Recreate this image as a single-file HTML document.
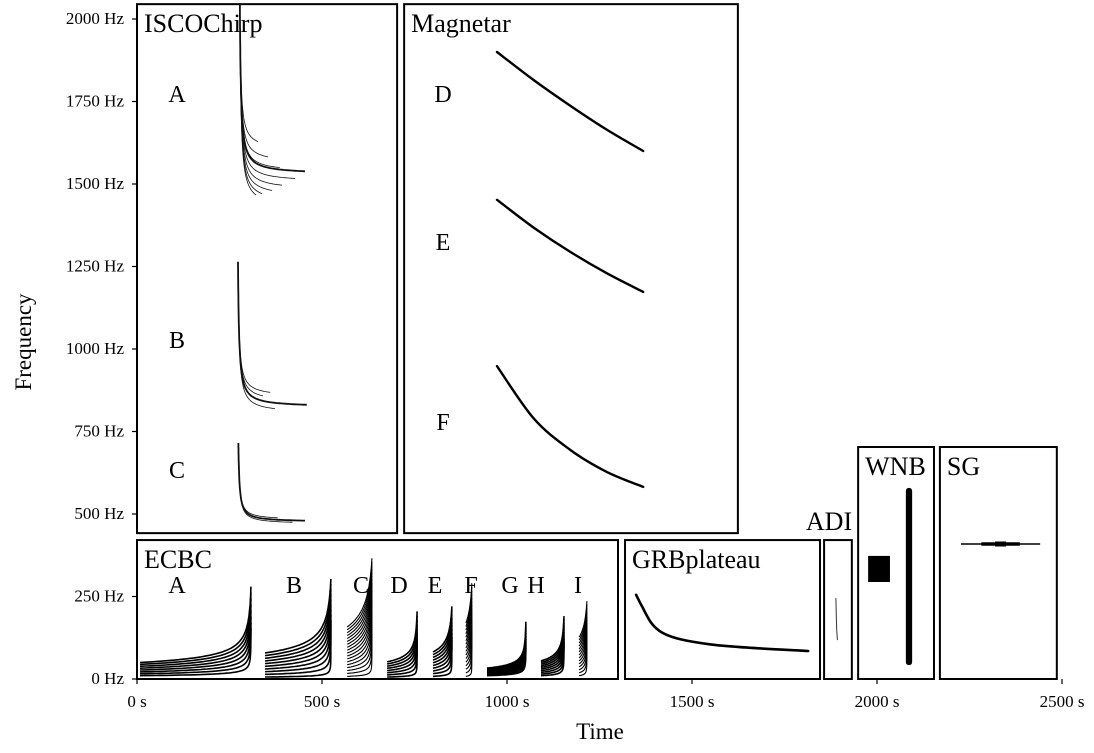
<!DOCTYPE html>
<html><head><meta charset="utf-8"><style>
body{margin:0;background:#fff}
svg text{font-family:"Liberation Serif",serif;fill:#000}
</style></head><body>
<svg id="c" width="1094" height="748" viewBox="0 0 1094 748" xmlns="http://www.w3.org/2000/svg"></svg>
<script>
// ---- data (time in s, frequency in Hz) ----
const yTicks=[0,250,500,750,1000,1250,1500,1750,2000];
const xTicks=[0,500,1000,1500,2000,2500];
const boxNames=["ISCOChirp","Magnetar","ECBC","GRBplateau","ADI","WNB","SG"];
const boxT0=[0,722,0,1319,1857,1949,2170];
const boxT1=[703,1624,1300,1846,1932,2154,2486];
const boxF0=[442,442,0,0,0,0,0];
const boxF1=[2045,2045,421,421,421,703,703];
// ISCO chirps: start time, start freq, end time, end freq
const iscoT0=[278,278,278,278,278,278,278,278,278, 273,273,273,273, 274,274,274];
const iscoF0=[2045,2045,2045,2045,2045,2045,2045,2045,2045, 1264,1264,1264,1264, 715,715,715];
const iscoT1=[327,354,386,454,427,392,365,338,322, 360,459,373,340, 454,420,380];
const iscoF1=[1603,1564,1536,1530,1506,1482,1461,1442,1427, 855,824,806,840, 476,470,482];
// Magnetar
const magT=[973,1072,1170,1269,1368];
const magD=[1900,1815,1738,1665,1600];
const magE=[1452,1368,1295,1230,1173];
const magF=[948,790,695,628,582];
// ECBC groups
const ecbcLabels=["A","B","C","D","E","F","G","H","I"];
const ecbcT0=[8,346,568,676,800,889,946,1092,1195];
const ecbcT1=[308,524,635,757,851,905,1051,1154,1216];
const ecbcBaseLo=[10,6,8,6,8,8,10,10,10];
const ecbcBaseHi=[50,79,158,52,82,170,33,55,127];
const ecbcPeak=[279,300,351,203,214,261,173,188,218];
const ecbcCount=[8,10,18,8,10,16,10,10,14];
// GRB plateau
const grbT=[1349,1365,1390,1420,1470,1550,1650,1814];
const grbF=[255,220,170,140,120,105,95,85];
// ADI
const adiT=[1889,1890,1891,1893];
const adiF=[245,190,150,118];
// WNB
const wnbBoxT=[1976,2035]; const wnbBoxF=[294,373];
const wnbBarT=[2078,2095]; const wnbBarF=[42,579];
// SG
const sgT=[2227,2441]; const sgF=409;

const X=t=>137+t*0.37, Y=f=>679-f*0.33;
const svg=document.getElementById('c');
const NS='http://www.w3.org/2000/svg';
function mk(tag,attrs,parent){const e=document.createElementNS(NS,tag);for(const k in attrs)e.setAttribute(k,attrs[k]);(parent||svg).appendChild(e);return e;}
function txt(s,x,y,size,anchor,name){const e=mk('text',{x:x,y:y,'font-size':size,'text-anchor':anchor||'start'});e.textContent=s;


return e;}
function pl(pts,w,col,name){const e=mk('polyline',{points:pts.map(p=>p[0].toFixed(1)+','+p[1].toFixed(1)).join(' '),fill:'none',stroke:col||'#000','stroke-width':w,'stroke-linejoin':'round'});


return e;}
function smooth(pts,w,name){let d='M'+pts[0][0]+','+pts[0][1];
for(let i=0;i<pts.length-1;i++){const p0=pts[Math.max(0,i-1)],p1=pts[i],p2=pts[i+1],p3=pts[Math.min(pts.length-1,i+2)];
d+=' C'+(p1[0]+(p2[0]-p0[0])/6).toFixed(1)+','+(p1[1]+(p2[1]-p0[1])/6).toFixed(1)+' '+(p2[0]-(p3[0]-p1[0])/6).toFixed(1)+','+(p2[1]-(p3[1]-p1[1])/6).toFixed(1)+' '+p2[0].toFixed(1)+','+p2[1].toFixed(1);}
const e=mk('path',{d:d,fill:'none',stroke:'#000','stroke-width':w,'stroke-linecap':'round'});


return e;}

// axes ticks
yTicks.forEach(v=>{const l=mk('line',{x1:132,x2:137,y1:Y(v),y2:Y(v),stroke:'#000','stroke-width':1.2});


txt(v+' Hz',124,Y(v)+5,17,'end','y-tick-label');});
xTicks.forEach(v=>{const l=mk('line',{x1:X(v),x2:X(v),y1:679,y2:684,stroke:'#000','stroke-width':1.2});


txt(v+' s',X(v),707,17,'middle','x-tick-label');});
txt('Time',600,739,23,'middle','x-axis-title');
const yt=txt('Frequency',0,0,23,'middle','y-axis-title');yt.setAttribute('transform','translate(31,342) rotate(-90)');

// boxes
boxNames.forEach((n,i)=>{const r=mk('rect',{x:X(boxT0[i]),y:Y(boxF1[i]),width:X(boxT1[i])-X(boxT0[i]),height:Y(boxF0[i])-Y(boxF1[i]),fill:'none',stroke:'#000','stroke-width':2});


if(n==='ADI') txt(n,829,530,26,'middle','adi-label');
else txt(n,X(boxT0[i])+7,Y(boxF1[i])+28,26,'start',n.toLowerCase()+'-label');});

// ISCO chirps (decaying)
for(let i=0;i<iscoT0.length;i++){const pts=[],t0=iscoT0[i],t1=iscoT1[i],a=iscoF0[i],b=iscoF1[i],eps=3;
for(let k=0;k<=100;k++){const t=t0+(t1-t0)*Math.pow(k/100,2.5);const f=b+(a-b)*eps/(eps+(t-t0));pts.push([X(t),Y(f)]);}
pl(pts,i===3||i===10||i===13?1.8:0.8,'#111','isco-chirp');}
txt('A',177,102,24,'middle','isco-a-label');txt('B',177,348,24,'middle','isco-b-label');txt('C',177,478,24,'middle','isco-c-label');

// Magnetar
[[magD,'D',102],[magE,'E',250],[magF,'F',430]].forEach(([arr,l,ly])=>{smooth(magT.map((t,i)=>[X(t),Y(arr[i])]),2.4,'magnetar-'+l.toLowerCase()+'-curve');txt(l,443,ly,24,'middle','magnetar-'+l.toLowerCase()+'-label');});

// ECBC chirps (rising)
const ecbcLX=[177,294,361,399,435,471,510,536,578];
ecbcLabels.forEach((l,g)=>{txt(l,ecbcLX[g],593,24,'middle','ecbc-'+l.toLowerCase()+'-label');
const n=ecbcCount[g],t0=ecbcT0[g],t1=ecbcT1[g];
for(let j=0;j<n;j++){const fb=ecbcBaseLo[g]+(ecbcBaseHi[g]-ecbcBaseLo[g])*j/(n-1);
const peak=ecbcPeak[g]*(1-0.45*(n-1-j)/(n-1));const tau0=t1-t0;const eps=tau0*Math.pow(fb/peak,8/3);const tc=t1+eps;
const pts=[];for(let k=0;k<=60;k++){const t=t0+(t1-t0)*(1-Math.pow(1-k/60,3));pts.push([X(t),Y(fb*Math.pow((tc-t0)/(tc-t),3/8))]);}
pl(pts,n>12?1.1:1.6,'#000','ecbc-chirp');}
});

// GRB
smooth(grbT.map((t,i)=>[X(t),Y(grbF[i])]),2.6,'grbplateau-curve');
// ADI
pl(adiT.map((t,i)=>[X(t),Y(adiF[i])]),1,'#333','adi-curve');
// WNB
let e=mk('rect',{x:X(wnbBoxT[0]),y:Y(wnbBoxF[1]),width:X(wnbBoxT[1])-X(wnbBoxT[0]),height:Y(wnbBoxF[0])-Y(wnbBoxF[1]),fill:'#000'});


e=mk('rect',{x:X(wnbBarT[0]),y:Y(wnbBarF[1]),width:X(wnbBarT[1])-X(wnbBarT[0]),height:Y(wnbBarF[0])-Y(wnbBarF[1]),rx:3,fill:'#000'});


// SG
pl([[X(sgT[0]),Y(sgF)],[X(sgT[1]),Y(sgF)]],1.6,'#000','sg-line');
pl([[X(sgT[0]+55),Y(sgF)],[X(sgT[1]-55),Y(sgF)]],3.5,'#000','sg-core');
pl([[X(sgT[0]+92),Y(sgF)],[X(sgT[1]-92),Y(sgF)]],5,'#000','sg-peak');
</script>
</body></html>
